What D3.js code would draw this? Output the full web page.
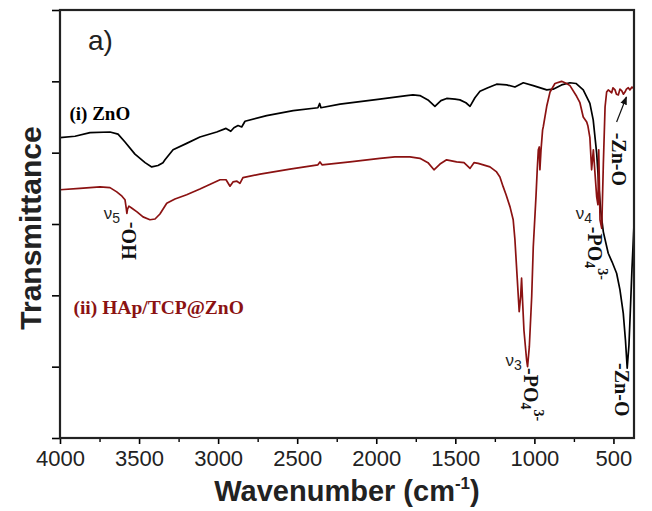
<!DOCTYPE html>
<html>
<head>
<meta charset="utf-8">
<script src="https://cdn.jsdelivr.net/npm/d3@7"></script>
<style>
  html, body { margin: 0; padding: 0; background: #fff; }
  svg { display: block; }
</style>
</head>
<body>
<svg id="chart" width="652" height="511"></svg>
<script>
// ---------------- DATA ----------------
const xTickValues = [4000, 3500, 3000, 2500, 2000, 1500, 1000, 500];
const xMinorTickValues = [3750, 3250, 2750, 2250, 1750, 1250, 750];
const yTickValues = [0, 1, 2, 3, 4, 5, 6];

const znoWavenumber = [4000,3905,3810,3684,3633,3589,3526,3462,3420,3380,3349,3336,3285,3199,3115,3009,2950,2920,2900,2874,2851,2830,2693,2525,2369,2358,2350,2229,1977,1808,1768,1724,1673,1629,1591,1555,1502,1471,1433,1407,1376,1344,1294,1239,1175,1123,1070,1007,922,881,828,775,737,691,649,628,606,592,581,564,533,509,480,459,438,424,413,402,393,383,373,370];
const znoTransmittance = [4.21,4.23,4.28,4.29,4.26,4.15,3.98,3.86,3.80,3.82,3.86,3.90,4.04,4.13,4.22,4.29,4.34,4.30,4.35,4.38,4.36,4.44,4.52,4.59,4.63,4.69,4.63,4.68,4.75,4.80,4.81,4.80,4.74,4.65,4.73,4.76,4.75,4.74,4.70,4.65,4.77,4.86,4.91,4.96,4.95,4.92,4.98,4.94,4.88,4.89,4.95,4.98,4.97,4.88,4.69,4.46,3.99,3.52,3.20,2.89,2.59,2.47,2.31,2.08,1.75,1.37,0.98,1.30,1.79,2.36,2.85,2.99];

const hapWavenumber = [4000,3874,3747,3684,3641,3608,3589,3581,3577,3573,3564,3545,3513,3475,3431,3399,3368,3325,3273,3199,3115,2988,2950,2925,2906,2881,2862,2843,2735,2546,2369,2356,2343,2166,1977,1882,1787,1724,1673,1635,1597,1555,1492,1445,1407,1382,1355,1281,1239,1218,1197,1179,1154,1134,1123,1108,1096,1087,1081,1074,1066,1049,1043,1032,1017,1007,990,982,975,969,965,958,948,944,922,901,870,828,796,775,733,712,691,669,661,649,638,627,617,606,598,593,585,574,564,553,543,533,511,503,490,481,469,459,448,437,427,418,406,396,383,372];
const hapTransmittance = [3.48,3.50,3.52,3.51,3.45,3.39,3.34,3.22,3.15,3.21,3.25,3.22,3.17,3.10,3.06,3.07,3.14,3.29,3.35,3.41,3.49,3.62,3.62,3.53,3.59,3.60,3.57,3.65,3.70,3.77,3.83,3.87,3.83,3.87,3.92,3.94,3.94,3.92,3.86,3.76,3.84,3.90,3.87,3.86,3.78,3.86,3.85,3.80,3.73,3.66,3.52,3.41,3.24,3.06,2.78,2.22,1.77,1.98,2.24,1.89,1.51,1.09,1.00,1.28,1.98,2.68,3.38,3.76,4.04,4.08,3.76,4.04,4.32,4.36,4.65,4.85,4.97,5.00,4.97,4.94,4.79,4.70,4.50,4.43,4.37,4.21,3.76,4.04,3.72,3.38,3.27,4.04,3.06,2.94,3.83,4.64,4.85,4.88,4.84,4.91,4.88,4.82,4.81,4.89,4.87,4.82,4.85,4.89,4.91,4.88,4.92,4.90];

const seriesNames = ["(i) ZnO", "(ii) HAp/TCP@ZnO"];
const seriesColors = ["#000000", "#8b1212"];

// ---------------- LAYOUT ----------------
const W = 652, H = 511;
const margin = {left: 60, right: 18, top: 10, bottom: 73};
const plotW = W - margin.left - margin.right;
const plotH = H - margin.top - margin.bottom;

const svg = d3.select("#chart");
const g = svg.append("g").attr("transform", `translate(${margin.left},${margin.top})`);

const x = d3.scaleLinear().domain([4000, 370]).range([0, plotW]);
const y = d3.scaleLinear().domain([0, 6]).range([plotH, 0]);

const sans = "'Liberation Sans', Arial, Helvetica, sans-serif";
const serif = "'Liberation Serif', 'Times New Roman', serif";

// ---------------- CURVES ----------------
const line = d3.line().x(d => x(d[0])).y(d => y(d[1]));
const znoData = znoWavenumber.map((w, i) => [w, znoTransmittance[i]]);
const hapData = hapWavenumber.map((w, i) => [w, hapTransmittance[i]]);

g.append("path").datum(znoData).attr("d", line)
  .attr("fill", "none").attr("stroke", seriesColors[0]).attr("stroke-width", 1.7)
  .attr("stroke-linejoin", "round");
g.append("path").datum(hapData).attr("d", line)
  .attr("fill", "none").attr("stroke", seriesColors[1]).attr("stroke-width", 1.7)
  .attr("stroke-linejoin", "round");

// ---------------- AXES ----------------
const xAxis = g.append("g").attr("transform", `translate(0,${plotH})`)
  .call(d3.axisBottom(x).tickValues(xTickValues).tickSize(6).tickPadding(6).tickFormat(d3.format("d")));
xAxis.select(".domain").remove();
xAxis.selectAll("line").attr("stroke-width", 1.6);
xAxis.selectAll("text").attr("font-family", sans).attr("font-size", 22).attr("fill", "#222");

const xMinor = g.append("g").attr("transform", `translate(0,${plotH})`)
  .call(d3.axisBottom(x).tickValues(xMinorTickValues).tickSize(4).tickFormat(""));
xMinor.select(".domain").remove();
xMinor.selectAll("line").attr("stroke-width", 1.4);

const yAxis = g.append("g")
  .call(d3.axisLeft(y).tickValues(yTickValues).tickSize(8).tickFormat(""));
yAxis.select(".domain").remove();
yAxis.selectAll("line").attr("stroke-width", 1.6);

// frame
g.append("rect").attr("x", 0).attr("y", 0).attr("width", plotW).attr("height", plotH)
  .attr("fill", "none").attr("stroke", "#222").attr("stroke-width", 2.2);

// axis titles
const xt = svg.append("text")
  .attr("x", margin.left + plotW / 2).attr("y", 501)
  .attr("text-anchor", "middle").attr("font-family", sans).attr("font-weight", "bold")
  .attr("font-size", 29).attr("fill", "#222");
xt.append("tspan").text("Wavenumber (cm");
xt.append("tspan").attr("font-size", 17).attr("dy", -12).text("-1");
xt.append("tspan").attr("dy", 12).text(")");

svg.append("text")
  .attr("transform", `translate(30,${margin.top + plotH / 2 + 4}) rotate(-90)`)
  .attr("text-anchor", "middle").attr("dominant-baseline", "central")
  .attr("font-family", sans).attr("font-weight", "bold")
  .attr("font-size", 30).attr("fill", "#222").text("Transmittance");

// panel label
svg.append("text").attr("x", 88).attr("y", 50)
  .attr("font-family", sans).attr("font-size", 28).attr("fill", "#222").text("a)");

// series labels
g.append("text").attr("x", x(3940)).attr("y", y(4.46))
  .attr("font-family", serif).attr("font-weight", "bold").attr("font-size", 19)
  .attr("fill", seriesColors[0]).text(seriesNames[0]);
g.append("text").attr("x", x(3915)).attr("y", y(1.74))
  .attr("font-family", serif).attr("font-weight", "bold").attr("font-size", 19.5)
  .attr("fill", seriesColors[1]).text(seriesNames[1]);

// ---------------- ANNOTATIONS ----------------
function nuLabel(wn, val, sub) {
  const t = g.append("text").attr("x", x(wn)).attr("y", y(val))
    .attr("text-anchor", "end").attr("font-family", sans).attr("font-size", 17).attr("fill", "#222");
  t.append("tspan").text("ν");
  t.append("tspan").attr("font-size", 14).attr("dy", 4).text(sub);
}
function rotLabel(wn, val, angle, parts) {
  const t = g.append("text")
    .attr("transform", `translate(${x(wn)},${y(val)}) rotate(${angle})`)
    .attr("text-anchor", "start").attr("dominant-baseline", "central")
    .attr("font-family", serif).attr("font-weight", "bold")
    .attr("font-size", 20).attr("fill", "#111");
  parts.forEach(p => {
    const ts = t.append("tspan").text(p.t);
    if (p.size) ts.attr("font-size", p.size);
    if (p.dy) ts.attr("dy", p.dy);
  });
  return t;
}

// ν5 HO-
nuLabel(3621, 3.07, "5");
rotLabel(3564, 2.50, -90, [{t: "HO-"}]);
// ν3 PO4
nuLabel(1079, 1.01, "3");
rotLabel(1024, 0.98, 90, [{t: "-PO"}, {t: "4", size: 14, dy: 5}, {t: "3-", size: 14, dy: -13}]);
// ν4 PO4
nuLabel(636, 3.07, "4");
rotLabel(619, 2.96, 90, [{t: "-PO"}, {t: "4", size: 14, dy: 5}, {t: "3-", size: 14, dy: -13}]);
// Zn-O lower
rotLabel(446, 1.05, 90, [{t: "-Zn-O"}]);
// Zn-O upper
rotLabel(462, 4.28, 90, [{t: "-Zn-O"}]);

// arrow
const defs = svg.append("defs");
defs.append("marker").attr("id", "ah").attr("viewBox", "0 0 10 10")
  .attr("refX", 9).attr("refY", 5).attr("markerWidth", 7).attr("markerHeight", 7)
  .attr("orient", "auto").append("path").attr("d", "M0,1 L10,5 L0,9 Z").attr("fill", "#111");
g.append("line")
  .attr("x1", x(480)).attr("y1", y(4.43))
  .attr("x2", x(418)).attr("y2", y(4.78))
  .attr("stroke", "#111").attr("stroke-width", 1.2).attr("marker-end", "url(#ah)");
</script>
</body>
</html>
